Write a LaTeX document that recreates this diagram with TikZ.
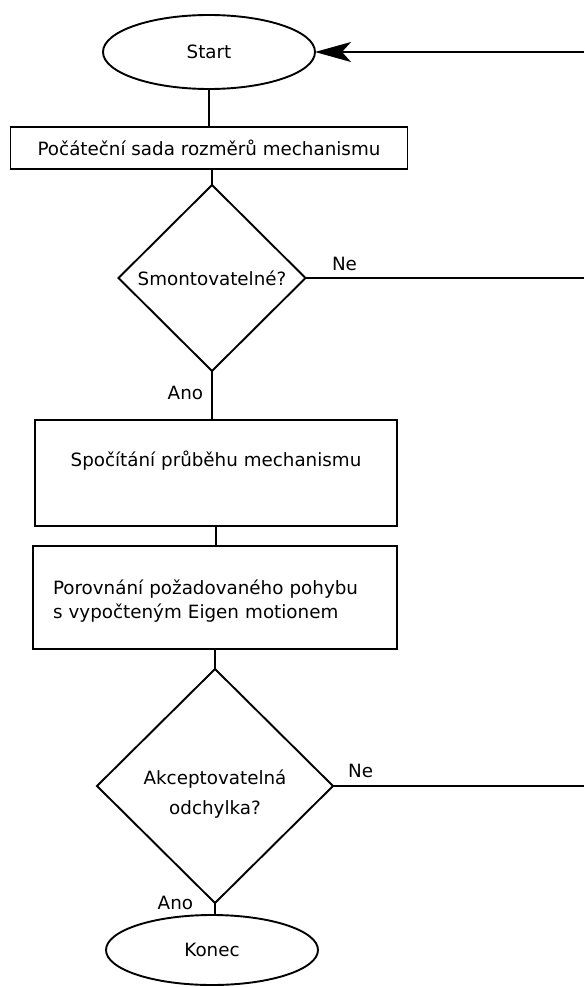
\documentclass[tikz,border=0pt]{standalone}
\usepackage{fontspec}
\setmainfont{DejaVu Sans}
\usepackage{tikz}
\usetikzlibrary{arrows.meta,positioning,shapes.geometric}

\begin{document}
\begin{tikzpicture}[x=1pt,y=-1pt,line width=1.9pt,
  every node/.style={font=\fontsize{18.3}{24}\selectfont},
  term/.style={draw,ellipse,minimum width=212pt,minimum height=74pt,inner sep=0pt,outer sep=0pt},
  box/.style={draw,rectangle,align=center,inner sep=0pt,outer sep=0pt},
  decision/.style={draw,diamond,align=center,inner sep=0pt,outer sep=0pt},
  lbl/.style={inner sep=2pt}]
  \useasboundingbox (0,0) rectangle (584,987);
  \coordinate (edge) at (584,0);
  \node[term] (start) at (209,52) {Start};
  \node[box,below=38pt of start,minimum width=397pt,minimum height=42pt] (init) {Počáteční sada rozměrů mechanismu};
  \node[decision,below=16pt of init,xshift=3pt,minimum width=187pt,minimum height=186pt] (mount) {Smontovatelné?};
  \node[box,below=49pt of mount,xshift=4pt,minimum width=362pt,minimum height=106pt,text height=17pt,text depth=31pt] (calc) {Spočítání průběhu mechanismu};
  \node[box,below=20pt of calc,xshift=-1pt,minimum height=103pt,align=left,text width=324pt,inner xsep=20pt,text height=22pt] (cmp) {Porovnání požadovaného pohybu\\s vypočteným Eigen motionem};
  \node[decision,below=20pt of cmp,minimum width=236pt,minimum height=234pt,font=\fontsize{18.3}{30}\selectfont,text height=60pt] (dev) {Akceptovatelná\\odchylka?};
  \node[term,below=12pt of dev,xshift=-3pt,minimum height=70pt] (end) {Konec};
  % spojnice
  \draw (start) -- (init);
  \draw (init.south -| mount.north) -- (mount.north);
  \draw (mount.south) -- node[lbl,left=6pt,pos=0.45] {Ano} (mount.south |- calc.north);
  \draw (calc.south) -- (calc.south |- cmp.north);
  \draw (cmp.south -| dev.north) -- (dev.north);
  \draw (dev.south) -- node[lbl,left=19pt,pos=0] {Ano} (dev.south |- end.north);
  % zpetne vetve
  \draw (mount.east) -- node[lbl,above=4pt,pos=0.14] {Ne} (mount.east -| edge);
  \draw (dev.east) -- node[lbl,above=5pt,pos=0.11] {Ne} (dev.east -| edge);
  \draw[-{Stealth[length=36pt,width=20pt,inset=9pt]}] (start.east -| edge) -- (start.east);
\end{tikzpicture}
\end{document}
